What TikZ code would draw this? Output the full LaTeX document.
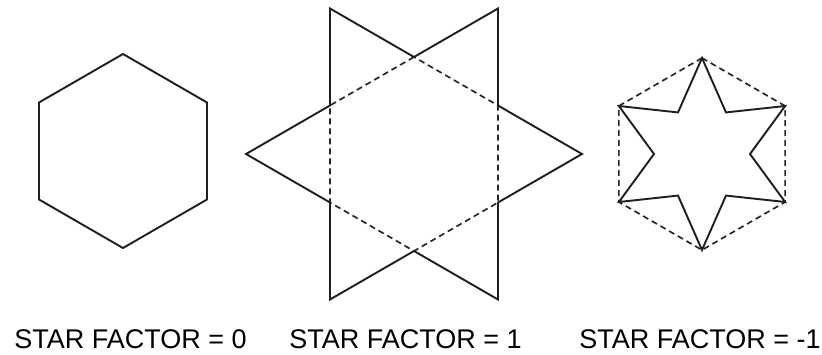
\documentclass[tikz,border=0pt]{standalone}
\usepackage{fontspec}
\setmainfont{Liberation Sans}
\usepackage{tikz}
\definecolor{starLine}{RGB}{30,30,30}
\definecolor{starGuide}{RGB}{40,40,40}

\begin{document}
\begin{tikzpicture}[x=1pt, y=1pt,
  outline/.style={starLine, line width=1.9pt},
  guide/.style={starGuide, line width=1.7pt, dash pattern=on 6pt off 4pt},
  caption/.style={anchor=base, inner sep=0pt, font=\fontsize{27}{30}\selectfont}]
\useasboundingbox (0,0) rectangle (822,354);
%
\begin{scope}[shift={(123,203)}]
\draw[outline] (90:97) -- (150:97) -- (210:97) -- (270:97) -- (330:97) -- (30:97) -- cycle;
\end{scope}
\node[caption] (capZero) at (130.5,6) {STAR FACTOR = 0};

%
\begin{scope}[shift={(414,200)}]
\draw[guide] (90:97) -- (150:97) -- (210:97) -- (270:97) -- (330:97) -- (30:97) -- cycle;
\draw[outline] (0:168) -- (30:97) -- (60:168) -- (90:97) -- (120:168) -- (150:97)
  -- (180:168) -- (210:97) -- (240:168) -- (270:97) -- (300:168) -- (330:97) -- cycle;
\end{scope}
\node[caption] (capOne) at (405.5,6) {STAR FACTOR = 1};

%
\begin{scope}[shift={(702,200)}]
\draw[guide] (90:96) -- (150:96) -- (210:96) -- (270:96) -- (330:96) -- (30:96) -- cycle;
\draw[outline] (0:48) -- (30:96) -- (60:48) -- (90:96) -- (120:48) -- (150:96)
  -- (180:48) -- (210:96) -- (240:48) -- (270:96) -- (300:48) -- (330:96) -- cycle;
\end{scope}
\node[caption] (capMinus) at (700,6) {STAR FACTOR = -1};
\end{tikzpicture}
\end{document}
